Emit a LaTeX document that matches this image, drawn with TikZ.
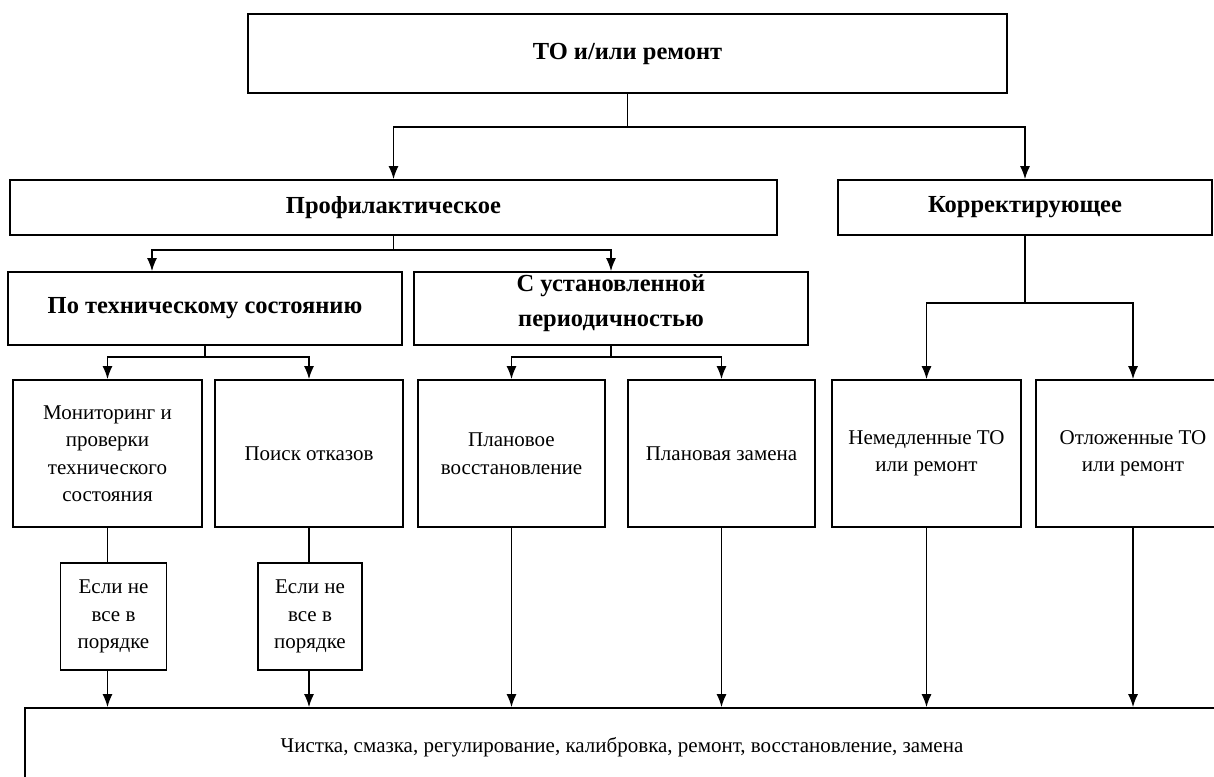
\documentclass[tikz,border=0pt]{standalone}
\usepackage{fontspec}
\setmainfont{Liberation Serif}
\usetikzlibrary{arrows.meta}

\begin{document}
\begin{tikzpicture}[x=1pt,y=-1pt]
    \useasboundingbox (0,0) rectangle (1214,776);
    \clip (0,0) rectangle (1214,776);

    \begin{scope}[every node/.style = {rectangle, draw, line width=1.6pt, align=center, inner sep=2pt},
                  head/.style = {font=\fontsize{24.5}{35}\selectfont\bfseries},
                  leaf/.style = {font=\fontsize{21}{27.5}\selectfont, minimum height=147pt}]
        \node[head, minimum width=759pt, minimum height=79pt] (top) at (627.5,53.5) {ТО и/или ремонт};

        \node[head, minimum width=767pt, minimum height=55pt] (prof) at (393.5,207.5) {Профилактическое};
        \node[head, minimum width=374pt, minimum height=55pt] (korr) at (1025,207.5)  {Корректирующее};

        \node[head, minimum width=394pt, minimum height=73pt] (tech) at (205,308.5) {По техническому состоянию};
        \node[head, minimum width=394pt, minimum height=73pt, text depth=16pt] (period) at (611,308.5) {С установленной\\периодичностью};

        \node[leaf, minimum width=189pt] (mon)    at (107.5,453.5) {Мониторинг и\\проверки\\технического\\состояния};
        \node[leaf, minimum width=188pt] (poisk)  at (309,453.5)   {Поиск отказов};
        \node[leaf, minimum width=187pt] (vosst)  at (511.5,453.5) {Плановое\\восстановление};
        \node[leaf, minimum width=187pt] (zamena) at (721.5,453.5) {Плановая замена};
        \node[leaf, minimum width=189pt] (nemed)  at (926.5,453.5) {Немедленные ТО\\или ремонт};
        \node[leaf, minimum width=194pt] (otlozh) at (1133,453.5)  {Отложенные ТО\\или ремонт};

        \node[leaf, minimum width=106pt, minimum height=107pt] (if1) at (113.5,616.5) {Если не\\все в\\порядке};
        \node[leaf, minimum width=104pt, minimum height=107pt] (if2) at (310,616.5)   {Если не\\все в\\порядке};

        \node[font=\fontsize{21}{27.5}\selectfont, minimum width=1194pt, minimum height=78pt] (work) at (622,747)
            {Чистка, смазка, регулирование, калибровка, ремонт, восстановление, замена};
    \end{scope}

    \begin{scope}[>={Latex[length=13pt,width=10pt]}, line width=1.6pt]
        % branch points
        \coordinate (j1) at (627.5,127);
        \coordinate (j2) at (393.5,250);
        \coordinate (j3) at (205,357);
        \coordinate (j4) at (611,357);
        \coordinate (j5) at (1025,303);

        \draw (top.south) -- (j1);
        \draw [->] (j1) -| (prof.north);
        \draw [->] (j1) -| (korr.north);

        \draw (prof.south) -- (j2);
        \draw [->] (j2) -| ([xshift=-53pt]tech.north);
        \draw [->] (j2) -| (period.north);

        \draw (tech.south) -- (j3);
        \draw [->] (j3) -| (mon.north);
        \draw [->] (j3) -| (poisk.north);

        \draw (period.south) -- (j4);
        \draw [->] (j4) -| (vosst.north);
        \draw [->] (j4) -| (zamena.north);

        \draw (korr.south) -- (j5);
        \draw [->] (j5) -| (nemed.north);
        \draw [->] (j5) -| (otlozh.north);

        \draw (mon.south) -- (mon.south |- if1.north);
        \draw [->] (mon.south |- if1.south) -- (mon.south |- work.north);
        \draw (poisk.south) -- (poisk.south |- if2.north);
        \draw [->] (poisk.south |- if2.south) -- (poisk.south |- work.north);

        \draw [->] (vosst.south)  -- (vosst.south |- work.north);
        \draw [->] (zamena.south) -- (zamena.south |- work.north);
        \draw [->] (nemed.south)  -- (nemed.south |- work.north);
        \draw [->] (otlozh.south) -- (otlozh.south |- work.north);
    \end{scope}
\end{tikzpicture}
\end{document}
